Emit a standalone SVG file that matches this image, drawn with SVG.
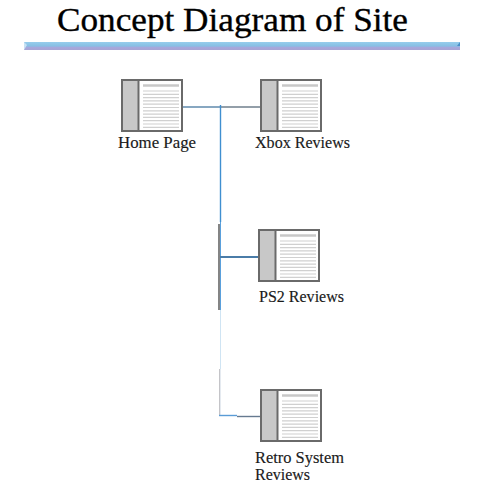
<svg xmlns="http://www.w3.org/2000/svg" width="500" height="500" viewBox="0 0 500 500">
<style>
text{font-family:"Liberation Serif","Times New Roman",serif;fill:#1a1a1a;font-size:16px;stroke:#1a1a1a;stroke-width:.15}
.frame{fill:#fff;stroke:#6a6a6a;stroke-width:2}
.side{fill:#c8c8c8}
.div{stroke:#6a6a6a;stroke-width:2}
.head{stroke:#c8c8c8;stroke-width:2.4}
.ln{stroke:#d0d0d0;stroke-width:1.2}
.c{fill:none}
</style>
<defs>
<linearGradient id="bar" x1="0" y1="0" x2="0" y2="1"><stop offset="0" stop-color="#96cdec"/><stop offset="0.5" stop-color="#88bfe4"/><stop offset="0.68" stop-color="#a6a8dc"/><stop offset="1" stop-color="#a8a4d4"/></linearGradient>
<g id="page">
<rect class="frame" x="1" y="1" width="60" height="51"/>
<rect class="side" x="2" y="2" width="15.500" height="49"/>
<path class="div" d="M17.500 1V52"/>
<path class="head" d="M22 6.500H58"/>
<path class="ln" d="M22 12H58M22 15.300H58M22 18.600H58M22 21.900H58M22 25.200H58M22 28.500H58M22 31.800H58M22 35.100H58M22 38.400H58M22 41.700H58M22 45H58M22 48.300H58"/>
</g>
</defs>
<g id="title">
<text x="57" y="31" style="font-size:33.500px;fill:#000;stroke:#000;stroke-width:.35" textLength="351" lengthAdjust="spacingAndGlyphs">Concept Diagram of Site</text>
<rect x="24" y="42" width="436" height="8" fill="url(#bar)"/>
<path d="M24 42L27 45L24 50Z" fill="#c8e2f4"/>
<path d="M460 42L457 46H460Z" fill="#4a90c8"/>
</g>
<g id="connectors" class="c">
<path d="M183 107H220" stroke="#5f8aac" stroke-width="1.600"/>
<path d="M220 107H260" stroke="#6f7f8c" stroke-width="1.600"/>
<path d="M220.500 105V222" stroke="#3f8fd0" stroke-width="1.400"/>
<path d="M219 224V310" stroke="#666" stroke-width="1.600"/>
<path d="M220.500 222V310" stroke="#5aa0dc" stroke-width="1"/>
<path d="M220 257H259" stroke="#4a7ca8" stroke-width="2"/>
<path d="M220.500 310V369" stroke="#cfe4f3" stroke-width="1"/>
<path d="M220 369V415" stroke="#c4c4c8" stroke-width="2"/>
<path d="M220.500 369V415" stroke="#eef4fa" stroke-width=".8"/>
<path d="M219 415.500H237" stroke="#5a9cd6" stroke-width="1.400"/>
<path d="M237 416.500H260" stroke="#667a90" stroke-width="1.400"/>
</g>
<g id="home-page"><use href="#page" x="121" y="79"/><text x="118" y="148" textLength="78" lengthAdjust="spacingAndGlyphs">Home Page</text></g>
<g id="xbox-reviews"><use href="#page" x="260" y="79"/><text x="255" y="148" textLength="95" lengthAdjust="spacingAndGlyphs">Xbox Reviews</text></g>
<g id="ps2-reviews"><use href="#page" x="258" y="229"/><text x="259" y="302" textLength="85" lengthAdjust="spacingAndGlyphs">PS2 Reviews</text></g>
<g id="retro-system-reviews"><use href="#page" x="260" y="389"/><text x="255" y="463" textLength="89" lengthAdjust="spacingAndGlyphs">Retro System</text><text x="255" y="480" textLength="55" lengthAdjust="spacingAndGlyphs">Reviews</text></g>
</svg>
